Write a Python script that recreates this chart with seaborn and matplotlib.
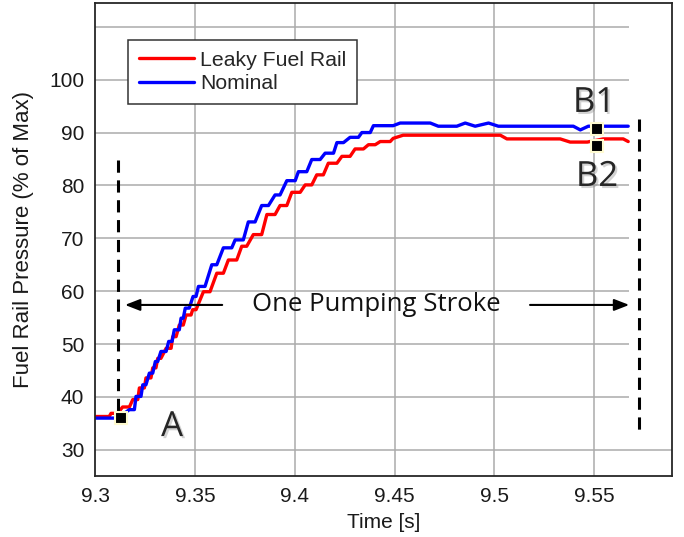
import numpy as np
import pandas as pd
import matplotlib
matplotlib.use("Agg")
import matplotlib.pyplot as plt
import matplotlib.patheffects as pe
import seaborn as sns

# Nominal rail pressure (% of max)
time_nominal = [9.300, 9.3112, 9.3171, 9.3196, 9.3204, 9.3229, 9.3238, 9.3254,
                9.3271, 9.3288, 9.3301, 9.3313, 9.3329, 9.3355, 9.3368, 9.3385,
                9.3396, 9.3421, 9.3430, 9.3441, 9.3451, 9.3471, 9.3490, 9.3505,
                9.3517, 9.3550, 9.3584, 9.3609, 9.3642, 9.3684, 9.3701, 9.3742,
                9.3767, 9.3801, 9.3834, 9.3868, 9.3901, 9.3926, 9.3960, 9.4002,
                9.4018, 9.4060, 9.4085, 9.4127, 9.4152, 9.4194, 9.4211, 9.4244,
                9.4277, 9.4319, 9.4336, 9.4378, 9.4394, 9.4493, 9.4528, 9.4679,
                9.4719, 9.4812, 9.4854, 9.4904, 9.4971, 9.5020, 9.5396, 9.5431,
                9.5471, 9.5671]
pres_nominal = [36.0, 36.0, 37.6, 37.6, 40.1, 40.1, 42.3, 42.3,
                44.5, 44.5, 46.7, 46.7, 48.6, 48.6, 50.5, 50.5,
                52.7, 52.7, 54.9, 54.9, 56.8, 56.8, 59.0, 59.0,
                60.9, 60.9, 65.0, 65.0, 68.2, 68.2, 69.7, 69.7,
                73.1, 73.1, 76.2, 76.2, 78.2, 78.2, 80.9, 80.9,
                82.6, 82.6, 84.9, 84.9, 86.1, 86.1, 88.1, 88.1,
                89.1, 89.1, 90.0, 90.0, 91.3, 91.3, 91.8, 91.8,
                91.2, 91.2, 91.8, 91.2, 91.8, 91.2, 91.2, 90.5,
                91.2, 91.2]

# Leaky fuel rail
time_leaky = [9.300, 9.3070, 9.3079, 9.3112, 9.3137, 9.3171, 9.3188, 9.3213,
              9.3221, 9.3246, 9.3254, 9.3279, 9.3288, 9.3304, 9.3313, 9.3329,
              9.3355, 9.3380, 9.3388, 9.3405, 9.3421, 9.3441, 9.3455, 9.3480,
              9.3488, 9.3505, 9.3542, 9.3575, 9.3609, 9.3642, 9.3667, 9.3709,
              9.3734, 9.3759, 9.3792, 9.3834, 9.3860, 9.3901, 9.3926, 9.3960,
              9.3985, 9.4027, 9.4052, 9.4085, 9.4110, 9.4143, 9.4168, 9.4211,
              9.4236, 9.4277, 9.4302, 9.4344, 9.4369, 9.4403, 9.4428, 9.4478,
              9.4493, 9.4543, 9.5030, 9.5063, 9.5330, 9.5380, 9.5466, 9.5546,
              9.5646, 9.5671]
pres_leaky = [36.3, 36.3, 36.9, 36.9, 38.1, 38.1, 39.5, 39.5,
              41.7, 41.7, 43.6, 43.6, 45.5, 45.5, 47.3, 47.3,
              49.2, 49.2, 51.4, 51.4, 53.6, 53.6, 55.5, 55.5,
              56.5, 56.5, 59.9, 59.9, 63.4, 63.4, 65.9, 65.9,
              68.5, 68.5, 70.7, 70.7, 74.5, 74.5, 76.2, 76.2,
              78.7, 78.7, 80.1, 80.1, 82.0, 82.0, 84.2, 84.2,
              85.5, 85.5, 86.9, 86.9, 87.7, 87.7, 88.3, 88.3,
              88.9, 89.5, 89.5, 88.8, 88.8, 88.2, 88.2, 88.8,
              88.8, 88.3]

# annotation points
point_a = (9.3129, 36.05)
point_b1 = (9.5515, 90.7)
point_b2 = (9.5515, 87.5)

x_ticks = [9.3, 9.35, 9.4, 9.45, 9.5, 9.55]
x_tick_labels = ["9.3", "9.35", "9.4", "9.45", "9.5", "9.55"]
y_ticks = [30, 40, 50, 60, 70, 80, 90, 100, 110]
y_tick_labels = ["30", "40", "50", "60", "70", "80", "90", "100", ""]

df = pd.concat([
    pd.DataFrame({"Time": time_leaky, "Pressure": pres_leaky, "Series": "Leaky Fuel Rail"}),
    pd.DataFrame({"Time": time_nominal, "Pressure": pres_nominal, "Series": "Nominal"}),
])

sns.set_style("white")
plt.rcParams['font.family'] = ['Liberation Sans', 'DejaVu Sans']

fig = plt.figure(figsize=(6.84, 5.37), dpi=100)
ax = fig.add_axes([0.1393, 0.1141, 0.8436, 0.8803])

x_left, x_right = 9.3, 9.5892
y_bottom, y_top = 25.1, 114.5
grid_end = 9.5675

# grid (stops where the simulation data stops, except the bottom line)
for yv in y_ticks:
    xe = x_right if yv == 30 else grid_end
    ax.hlines(yv, x_left, xe, color="#ababab", lw=1.1, zorder=0)
for xv in x_ticks[1:]:
    ax.axvline(xv, color="#ababab", lw=1.1, zorder=0)

sns.lineplot(data=df, x="Time", y="Pressure", hue="Series", sort=False,
             estimator=None, palette=["#ff0000", "#0000ff"], lw=2.4, ax=ax)

ax.set_xlim(x_left, x_right)
ax.set_ylim(y_bottom, y_top)
ax.set_xticks(x_ticks)
ax.set_xticklabels(x_tick_labels)
ax.set_yticks(y_ticks)
ax.set_yticklabels(y_tick_labels)
ax.tick_params(length=0, labelsize=15, colors="#1a1a1a", pad=8)
ax.set_xlabel("Time [s]", fontsize=15, color="#1a1a1a", labelpad=5)
ax.set_ylabel("Fuel Rail Pressure (% of Max)", fontsize=16, color="#1a1a1a", labelpad=11)
for s in ax.spines.values():
    s.set_color("#262626")
    s.set_linewidth(1.3)

leg = ax.legend(loc="upper left", bbox_to_anchor=(0.0567, 0.922), borderaxespad=0,
                fontsize=15.3, handlelength=2.6, handletextpad=0.3, fancybox=False,
                edgecolor="#333333", framealpha=1, borderpad=0.5, labelspacing=0.22)
leg.get_frame().set_linewidth(1.1)

# dashed markers for the pumping stroke
ax.plot([9.3114, 9.3114], [84.9, 36.5], ls=(0, (4, 2.5)), color="black", lw=2.2)
ax.plot([9.5727, 9.5727], [92.6, 33.6], ls=(0, (4, 2.5)), color="black", lw=2.2)

arrow_y = 57.4
ax.annotate("", xy=(9.3135, arrow_y), xytext=(9.3650, arrow_y),
            arrowprops=dict(arrowstyle="-|>,head_length=0.9,head_width=0.35", color="black", lw=1.5))
ax.annotate("", xy=(9.5690, arrow_y), xytext=(9.5165, arrow_y),
            arrowprops=dict(arrowstyle="-|>,head_length=0.9,head_width=0.35", color="black", lw=1.5))
ax.text(9.4410, arrow_y, "One Pumping Stroke", ha="center", va="center",
        fontsize=18.5, family="Open Sans", color="#111111")

shadow = [pe.withSimplePatchShadow(offset=(1.5, -1.5), shadow_rgbFace="gray", alpha=0.35)]
ax.text(9.3385, 34.3, "A", ha="center", va="center", fontsize=25, family="Open Sans",
        path_effects=shadow)
ax.text(9.5500, 95.6, "B1", ha="center", va="center", fontsize=25, family="Open Sans",
        path_effects=shadow)
ax.text(9.5515, 81.6, "B2", ha="center", va="center", fontsize=25, family="Open Sans",
        path_effects=shadow)

for px, py in [point_a, point_b1, point_b2]:
    ax.plot(px, py, marker="s", ms=8.5, mfc="black", mec="#fffbd0", mew=1.5, zorder=5)

fig.savefig("out.png", dpi=100)
